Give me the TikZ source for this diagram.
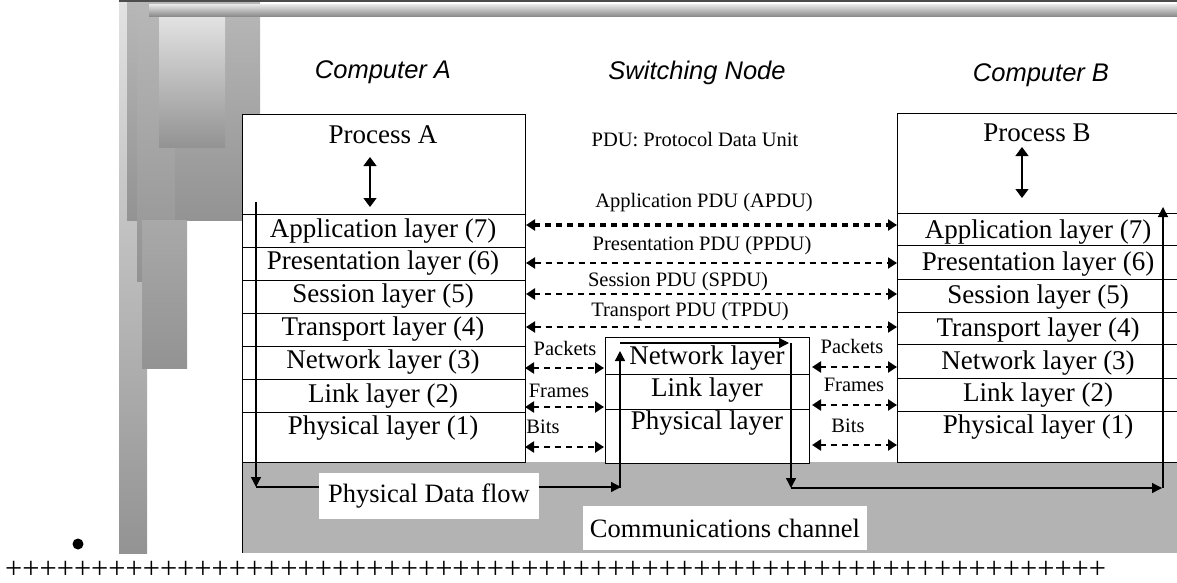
\documentclass[tikz,border=0pt]{standalone}
\usepackage{fontspec}
\setmainfont{Liberation Serif}
\newfontfamily\headfont{Liberation Sans}
\usetikzlibrary{arrows.meta}

\definecolor{chan}{HTML}{B3B3B3}
\definecolor{decolight}{HTML}{E2E2E2}
\definecolor{decomid}{HTML}{B8B8B8}
\definecolor{decodark}{HTML}{939393}

\tikzset{
  head/.style={font=\headfont\itshape\fontsize{25.5}{27}\selectfont, inner sep=0pt},
  layer/.style={font=\fontsize{27}{29}\selectfont, inner sep=0pt},
  pdu/.style={font=\fontsize{20.5}{22}\selectfont, inner sep=0pt},
  pduline/.style={line width=2.4pt, dash pattern=on 6pt off 5pt,
    {Triangle[length=9pt,width=11pt]}-{Triangle[length=9pt,width=11pt]}},
  flow/.style={line width=1.3pt, -{Triangle[length=10pt,width=10pt]}},
  tag/.style={fill=white, font=\fontsize{26.5}{28}\selectfont, inner sep=0pt}
}

\begin{document}
\begin{tikzpicture}[x=1pt,y=-1pt]
    \useasboundingbox (0,0) rectangle (1177,583);
    % grey bars on the left and on top
    \shade[top color=decolight, bottom color=decodark] (119,0) rectangle (147,553);
    \shade[top color=decomid, bottom color=decodark] (127,0) rectangle (260,220);
    \shade[top color=decomid, bottom color=decodark] (137,0) rectangle (175,281);
    \shade[top color=decodark!80!white, bottom color=decodark] (142,220) rectangle (187,368);
    \shade[top color=decolight, bottom color=decodark] (159,17) rectangle (225,147);
    \draw[line width=1.2pt, black!70] (119,1) -- (1177,1);
    \shade[top color=decolight, bottom color=decodark!90!black] (149,5) rectangle (1177,17);
    % communications channel
    \fill[chan] (242,462) rectangle (1177,553);
    \draw[line width=0.8pt] (242,114) -- (242,553);

    % computer A
    \draw[line width=0.8pt, fill=white] (242,114) rectangle (525,462);
    \foreach \y in {214,247,280,313,346,379,412}
        \draw[line width=0.8pt] (242,\y) -- (525,\y);
    % switching node
    \draw[line width=0.8pt, fill=white] (605,337) rectangle (809,463);
    \foreach \y in {374,409}
        \draw[line width=0.8pt] (605,\y) -- (809,\y);
    % computer B
    \fill[white] (897,113) rectangle (1177,462);
    \draw[line width=0.8pt] (1177,113) -- (897,113) -- (897,462) -- (1177,462);
    \foreach \y in {213,245,279,312,344,378,411}
        \draw[line width=0.8pt] (897,\y) -- (1177,\y);

    % headings
    \node[head] (compA) at (383,72) {Computer A};
    \node[head] (swnode) at (697,73) {Switching Node};
    \node[head] (compB) at (1041,75) {Computer B};
    \node[layer] (procA) at (383,135) {Process A};
    \node[layer] (procB) at (1037,133) {Process B};

    % layer names
    \foreach \n/\t/\y in {app/{Application layer (7)}/231, pres/{Presentation layer (6)}/263,
        sess/{Session layer (5)}/296, trans/{Transport layer (4)}/329,
        net/{Network layer (3)}/362, link/{Link layer (2)}/396, phys/{Physical layer (1)}/428}
        \node[layer] (a\n) at (383,\y) {\t};
    \foreach \n/\t/\y in {app/{Application layer (7)}/232, pres/{Presentation layer (6)}/264,
        sess/{Session layer (5)}/297, trans/{Transport layer (4)}/330,
        net/{Network layer (3)}/363, link/{Link layer (2)}/395, phys/{Physical layer (1)}/427}
        \node[layer] (b\n) at (1038,\y) {\t};
    \node[layer] (snet) at (707,358) {Network layer};
    \node[layer] (slink) at (707,390) {Link layer};
    \node[layer] (sphys) at (707,423) {Physical layer};

    % process arrows
    \coordinate (procAtop) at (370,157);
    \coordinate (procAbot) at (370,207);
    \coordinate (procBtop) at (1022,147);
    \coordinate (procBbot) at (1022,198);
    \draw[line width=1.3pt, {Triangle[length=9pt,width=13pt]}-{Triangle[length=9pt,width=13pt]}]
        (procAtop) -- (procAbot);
    \draw[line width=1.3pt, {Triangle[length=9pt,width=13pt]}-{Triangle[length=9pt,width=13pt]}]
        (procBtop) -- (procBbot);

    % peer protocol data units
    \node[pdu] (pdudef) at (695,140) {PDU: Protocol Data Unit};
    \node[pdu] (apdu) at (704,203) {Application PDU (APDU)};
    \node[pdu] (ppdu) at (702,246) {Presentation PDU (PPDU)};
    \node[pdu] (spdu) at (678,282) {Session PDU (SPDU)};
    \node[pdu] (tpdu) at (690,312) {Transport PDU (TPDU)};
    \coordinate (apduL) at (526,225);  \coordinate (apduR) at (897,225);
    \coordinate (ppduL) at (526,263);  \coordinate (ppduR) at (897,263);
    \coordinate (spduL) at (526,294);  \coordinate (spduR) at (897,294);
    \coordinate (tpduL) at (526,327);  \coordinate (tpduR) at (897,327);
    \draw[pduline, line width=3.2pt] (apduL) -- (apduR);
    \draw[pduline, line width=2pt] (ppduL) -- (ppduR);
    \draw[pduline, line width=2.8pt] (spduL) -- (spduR);
    \draw[pduline, line width=2pt] (tpduL) -- (tpduR);

    % hop by hop units
    \node[pdu] (pktA) at (565,348) {Packets};
    \node[pdu] (frmA) at (559,391) {Frames};
    \node[pdu] (bitA) at (543,427) {Bits};
    \node[pdu] (pktB) at (852,346) {Packets};
    \node[pdu] (frmB) at (854,385) {Frames};
    \node[pdu] (bitB) at (848,426) {Bits};
    \coordinate (pktAL) at (525,368);  \coordinate (pktAR) at (604,368);
    \coordinate (frmAL) at (525,407);  \coordinate (frmAR) at (604,407);
    \coordinate (bitAL) at (525,447);  \coordinate (bitAR) at (604,447);
    \coordinate (pktBL) at (812,367);  \coordinate (pktBR) at (897,367);
    \coordinate (frmBL) at (812,405);  \coordinate (frmBR) at (897,405);
    \coordinate (bitBL) at (812,445);  \coordinate (bitBR) at (897,445);
    \foreach \a in {pktA,frmA,bitA,pktB,frmB,bitB}
        \draw[pduline, line width=2.2pt] (\a L) -- (\a R);

    % physical data flow
    \coordinate (f0) at (256,202);
    \coordinate (f1) at (256,487);
    \coordinate (f2) at (621,487);
    \coordinate (f3) at (620,488);
    \coordinate (f4) at (620,351);
    \coordinate (f5) at (620,343);
    \coordinate (f6) at (789,343);
    \coordinate (f7) at (791,343);
    \coordinate (f8) at (791,488);
    \coordinate (f9) at (1162,488);
    \coordinate (f10) at (1163,488);
    \coordinate (f11) at (1163,207);
    \draw[flow] (f0) -- (f1);
    \draw[flow] (f1) -- (f2);
    \draw[flow] (f3) -- (f4);
    \draw[flow] (f5) -- (f6);
    \draw[flow] (f7) -- (f8);
    \draw[flow] (f8) -- (f9);
    \draw[flow] (f10) -- (f11);
    \node[tag, minimum width=220pt, minimum height=46pt] (dataflow) at (429,496) {Physical Data flow};
    \node[tag, minimum width=284pt, minimum height=44pt] (channel) at (725,528) {Communications channel};

    % bullet and row of crosses
    \fill (78,544) circle (5.5);
    \node[font=\fontsize{30.5}{32}\selectfont, inner sep=0pt, anchor=base west] (crosses) at (5,578)
        {++++++++++++++++++++++++++++++++++++++++++++++++++++++++++++++++};
\end{tikzpicture}
\end{document}
